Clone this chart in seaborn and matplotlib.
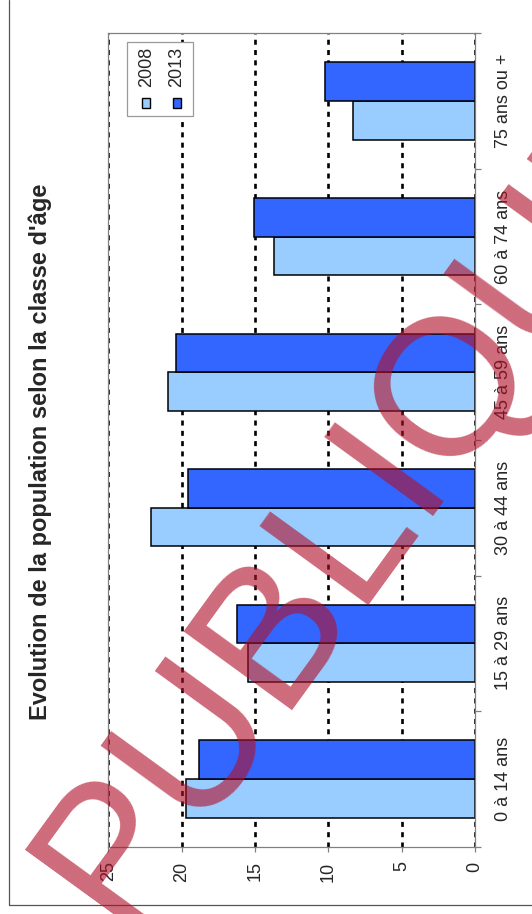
import matplotlib
matplotlib.use("Agg")
import matplotlib.pyplot as plt
from matplotlib.patches import Rectangle
from matplotlib.lines import Line2D
import seaborn as sns
import pandas as pd
import numpy as np

# --- data -------------------------------------------------------------
classes = ["0 à 14 ans", "15 à 29 ans", "30 à 44 ans",
           "45 à 59 ans", "60 à 74 ans", "75 ans ou +"]
years = ["2008", "2013"]
pct_2008 = [19.7, 15.5, 22.1, 20.9, 13.7, 8.3]
pct_2013 = [18.8, 16.2, 19.6, 20.4, 15.1, 10.2]
value_ticks = [0, 5, 10, 15, 20, 25]
title = "Evolution de la population selon la classe d'âge"
stamp = "PUBLIQUE"

colors = {"2008": "#99CCFF", "2013": "#3366FF"}

df = pd.DataFrame({
    "classe": classes * 2,
    "annee": [years[0]] * len(classes) + [years[1]] * len(classes),
    "pct": pct_2008 + pct_2013,
})

sns.set_style("white")
plt.rcParams["font.family"] = ["Liberation Sans", "DejaVu Sans"]

W, H, DPI = 532, 914, 100
fig = plt.figure(figsize=(W / DPI, H / DPI), dpi=DPI, facecolor="white")


def fx(px):
    return px / W


def fy(py):
    return 1 - py / H


# plot area (pixel box: x 108..475, y 33..847)
ax_l, ax_r, ax_t, ax_b = 108.3, 475.0, 33.3, 846.7
ax = fig.add_axes([fx(ax_l), fy(ax_b), (ax_r - ax_l) / W, (ax_b - ax_t) / H])

sns.barplot(data=df, y="classe", x="pct", hue="annee", order=classes,
            hue_order=years, palette=colors, orient="h", width=0.57,
            edgecolor="black", linewidth=1.1, saturation=1, legend=False,
            ax=ax)

# first age class at the bottom, values growing to the left
ax.set_ylim(-0.5, len(classes) - 0.5)
ax.set_xlim(25, 0)

ax.set_xlabel("")
ax.set_ylabel("")

# dotted value gridlines behind the bars
ax.set_axisbelow(True)
ax.xaxis.grid(True, color="black", linewidth=1.9, linestyle=(0, (1.9, 2.0)))
ax.yaxis.grid(False)

for side in ["left", "right", "top", "bottom"]:
    ax.spines[side].set_visible(True)
    ax.spines[side].set_color("#808080")
    ax.spines[side].set_linewidth(0.9)

# value axis (bottom)
ax.set_xticks(value_ticks)
ax.set_xticklabels([str(v) for v in value_ticks], rotation=90, fontsize=13)
ax.tick_params(axis="x", bottom=True, direction="out", length=3.6,
               width=0.9, color="#808080", pad=7)

# category axis (right)
ax.yaxis.tick_right()
ax.set_yticks(range(len(classes)))
ax.set_yticklabels(classes, rotation=90, va="center", fontsize=13)
ax.set_yticks(np.arange(-0.5, len(classes), 1.0), minor=True)
ax.tick_params(axis="y", which="major", right=True, left=False, length=0,
               pad=14.5)
ax.tick_params(axis="y", which="minor", right=True, left=False,
               direction="out", length=4.3, width=0.9, color="#808080")

# title, read bottom to top along the left side
fig.text(fx(47.5), fy(451.5), title, rotation=90, rotation_mode="anchor",
         ha="center", va="baseline", fontsize=17, fontweight="bold")

# legend box
fig.patches.append(Rectangle((fx(126.7), fy(116.0)), (193.3 - 126.7) / W,
                             (116.0 - 42.3) / H, transform=fig.transFigure,
                             facecolor="white", edgecolor="#9a9a9a",
                             linewidth=0.9, zorder=5))
for yr, mx, tx in [(years[0], 146.3, 151.5), (years[1], 176.7, 181.5)]:
    fig.patches.append(Rectangle((fx(mx - 4), fy(103.3 + 5)), 8 / W, 10 / H,
                                 transform=fig.transFigure,
                                 facecolor=colors[yr], edgecolor="black",
                                 linewidth=1.0, zorder=6))
    fig.text(fx(tx), fy(87.0), yr, rotation=90, rotation_mode="anchor",
             ha="left", va="baseline", fontsize=13, zorder=6)

# outer chart frame (left and bottom edges)
fig.lines.append(Line2D([fx(9.3), fx(9.3)], [fy(905.0), 1.0],
                        transform=fig.transFigure, color="#555555",
                        linewidth=0.9))
fig.lines.append(Line2D([fx(9.3), 1.0], [fy(905.0), fy(905.0)],
                        transform=fig.transFigure, color="#555555",
                        linewidth=0.9))

# diagonal stamp across the chart
fig.text(fx(118), fy(928), stamp, rotation=54, rotation_mode="anchor",
         ha="left", va="baseline", fontsize=140, color="#b0102a", alpha=0.62,
         zorder=20)

fig.savefig("out.png", dpi=DPI, facecolor="white")
